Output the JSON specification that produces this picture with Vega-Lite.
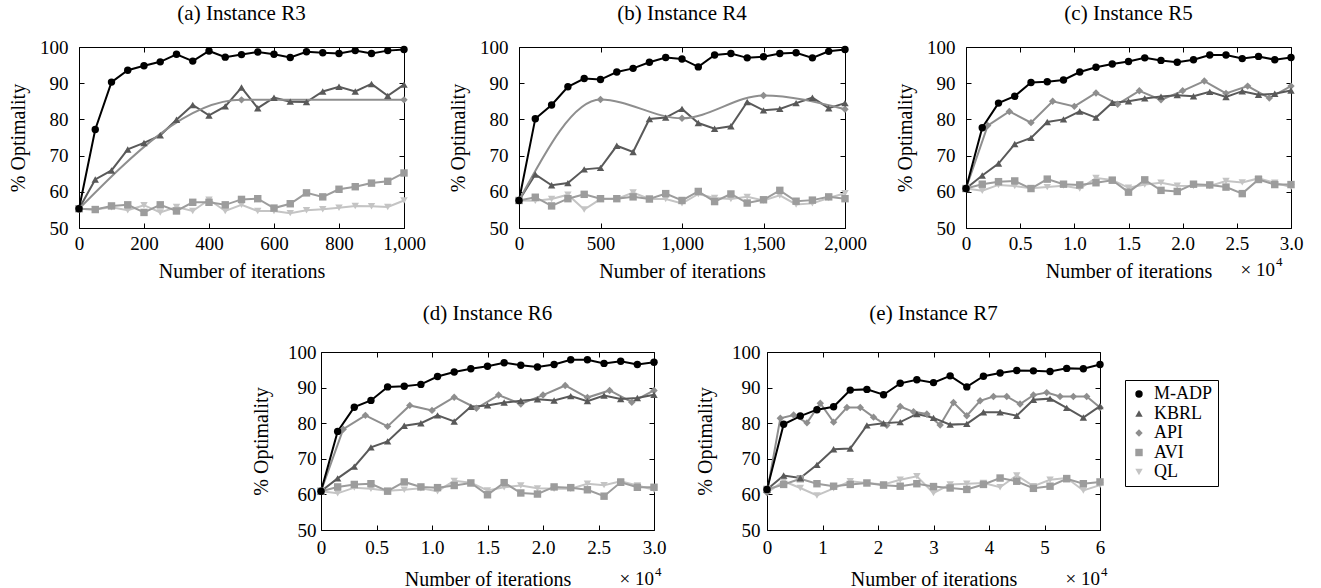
{
  "$schema": "https://vega.github.io/schema/vega-lite/v6.json",
  "padding": {"left": 8, "top": 2, "right": 0, "bottom": 0},
  "background": "white",
  "config": {
    "font": "Liberation Serif",
    "view": {"stroke": "black", "strokeWidth": 1},
    "axis": {"grid": false, "domain": false, "ticks": true, "tickColor": "black", "tickSize": -5, "tickWidth": 1, "labelFont": "Liberation Serif", "labelFontSize": 19, "labelColor": "black", "titleFont": "Liberation Serif", "titleFontSize": 20, "titleFontWeight": "normal", "titleColor": "black", "labelFlush": false, "labelOverlap": false},
    "title": {"font": "Liberation Serif", "fontSize": 21, "fontWeight": "normal", "color": "black"},
    "legend": {"labelFont": "Liberation Serif", "labelFontSize": 18, "labelColor": "black", "symbolSize": 55, "strokeColor": "black", "fillColor": "white", "padding": 5, "rowPadding": 1.5, "labelOffset": 6, "symbolStrokeWidth": 0}
  },
  "data": {"values": [
    {"p":"a","s":"QL","x":0,"y":55.3},{"p":"a","s":"QL","x":50,"y":55.1},{"p":"a","s":"QL","x":100,"y":55.7},{"p":"a","s":"QL","x":150,"y":54.9},{"p":"a","s":"QL","x":200,"y":56.3},{"p":"a","s":"QL","x":250,"y":54.3},{"p":"a","s":"QL","x":300,"y":55.8},{"p":"a","s":"QL","x":350,"y":54.7},{"p":"a","s":"QL","x":400,"y":57.8},{"p":"a","s":"QL","x":450,"y":54.7},{"p":"a","s":"QL","x":500,"y":56.4},{"p":"a","s":"QL","x":550,"y":54.7},{"p":"a","s":"QL","x":600,"y":54.7},{"p":"a","s":"QL","x":650,"y":54.1},{"p":"a","s":"QL","x":700,"y":54.9},{"p":"a","s":"QL","x":750,"y":55.2},{"p":"a","s":"QL","x":800,"y":55.6},{"p":"a","s":"QL","x":850,"y":56.1},{"p":"a","s":"QL","x":900,"y":56.0},{"p":"a","s":"QL","x":950,"y":55.8},{"p":"a","s":"QL","x":1000,"y":57.6},
    {"p":"a","s":"AVI","x":0,"y":55.3},{"p":"a","s":"AVI","x":50,"y":55.1},{"p":"a","s":"AVI","x":100,"y":56.1},{"p":"a","s":"AVI","x":150,"y":56.4},{"p":"a","s":"AVI","x":200,"y":54.3},{"p":"a","s":"AVI","x":250,"y":56.4},{"p":"a","s":"AVI","x":300,"y":54.7},{"p":"a","s":"AVI","x":350,"y":57.1},{"p":"a","s":"AVI","x":400,"y":57.1},{"p":"a","s":"AVI","x":450,"y":56.4},{"p":"a","s":"AVI","x":500,"y":57.9},{"p":"a","s":"AVI","x":550,"y":58.1},{"p":"a","s":"AVI","x":600,"y":55.5},{"p":"a","s":"AVI","x":650,"y":56.7},{"p":"a","s":"AVI","x":700,"y":59.7},{"p":"a","s":"AVI","x":750,"y":58.6},{"p":"a","s":"AVI","x":800,"y":60.7},{"p":"a","s":"AVI","x":850,"y":61.4},{"p":"a","s":"AVI","x":900,"y":62.4},{"p":"a","s":"AVI","x":950,"y":62.9},{"p":"a","s":"AVI","x":1000,"y":65.2},
    {"p":"a","s":"API","x":0,"y":55.3},{"p":"a","s":"API","x":500,"y":85.4},{"p":"a","s":"API","x":1000,"y":85.4},
    {"p":"a","s":"KBRL","x":0,"y":55.3},{"p":"a","s":"KBRL","x":50,"y":63.4},{"p":"a","s":"KBRL","x":100,"y":65.9},{"p":"a","s":"KBRL","x":150,"y":71.7},{"p":"a","s":"KBRL","x":200,"y":73.5},{"p":"a","s":"KBRL","x":250,"y":75.6},{"p":"a","s":"KBRL","x":300,"y":79.9},{"p":"a","s":"KBRL","x":350,"y":84.0},{"p":"a","s":"KBRL","x":400,"y":81.1},{"p":"a","s":"KBRL","x":450,"y":83.6},{"p":"a","s":"KBRL","x":500,"y":88.8},{"p":"a","s":"KBRL","x":550,"y":83.1},{"p":"a","s":"KBRL","x":600,"y":86.0},{"p":"a","s":"KBRL","x":650,"y":84.9},{"p":"a","s":"KBRL","x":700,"y":84.8},{"p":"a","s":"KBRL","x":750,"y":87.7},{"p":"a","s":"KBRL","x":800,"y":89.0},{"p":"a","s":"KBRL","x":850,"y":87.7},{"p":"a","s":"KBRL","x":900,"y":89.8},{"p":"a","s":"KBRL","x":950,"y":86.5},{"p":"a","s":"KBRL","x":1000,"y":89.6},
    {"p":"a","s":"M-ADP","x":0,"y":55.3},{"p":"a","s":"M-ADP","x":50,"y":77.2},{"p":"a","s":"M-ADP","x":100,"y":90.3},{"p":"a","s":"M-ADP","x":150,"y":93.6},{"p":"a","s":"M-ADP","x":200,"y":94.8},{"p":"a","s":"M-ADP","x":250,"y":95.9},{"p":"a","s":"M-ADP","x":300,"y":98.0},{"p":"a","s":"M-ADP","x":350,"y":96.1},{"p":"a","s":"M-ADP","x":400,"y":98.9},{"p":"a","s":"M-ADP","x":450,"y":97.2},{"p":"a","s":"M-ADP","x":500,"y":97.9},{"p":"a","s":"M-ADP","x":550,"y":98.6},{"p":"a","s":"M-ADP","x":600,"y":98.0},{"p":"a","s":"M-ADP","x":650,"y":97.1},{"p":"a","s":"M-ADP","x":700,"y":98.7},{"p":"a","s":"M-ADP","x":750,"y":98.4},{"p":"a","s":"M-ADP","x":800,"y":98.2},{"p":"a","s":"M-ADP","x":850,"y":99.0},{"p":"a","s":"M-ADP","x":900,"y":98.2},{"p":"a","s":"M-ADP","x":950,"y":99.0},{"p":"a","s":"M-ADP","x":1000,"y":99.3},

    {"p":"b","s":"QL","x":0,"y":57.6},{"p":"b","s":"QL","x":100,"y":57.5},{"p":"b","s":"QL","x":200,"y":58.0},{"p":"b","s":"QL","x":300,"y":59.2},{"p":"b","s":"QL","x":400,"y":55.1},{"p":"b","s":"QL","x":500,"y":58.0},{"p":"b","s":"QL","x":600,"y":58.0},{"p":"b","s":"QL","x":700,"y":59.8},{"p":"b","s":"QL","x":800,"y":58.0},{"p":"b","s":"QL","x":900,"y":58.0},{"p":"b","s":"QL","x":1000,"y":56.8},{"p":"b","s":"QL","x":1100,"y":59.4},{"p":"b","s":"QL","x":1200,"y":58.3},{"p":"b","s":"QL","x":1300,"y":58.0},{"p":"b","s":"QL","x":1400,"y":58.6},{"p":"b","s":"QL","x":1500,"y":57.6},{"p":"b","s":"QL","x":1600,"y":59.0},{"p":"b","s":"QL","x":1700,"y":56.5},{"p":"b","s":"QL","x":1800,"y":56.8},{"p":"b","s":"QL","x":1900,"y":58.3},{"p":"b","s":"QL","x":2000,"y":59.6},
    {"p":"b","s":"AVI","x":0,"y":57.6},{"p":"b","s":"AVI","x":100,"y":58.5},{"p":"b","s":"AVI","x":200,"y":56.1},{"p":"b","s":"AVI","x":300,"y":58.1},{"p":"b","s":"AVI","x":400,"y":59.3},{"p":"b","s":"AVI","x":500,"y":58.1},{"p":"b","s":"AVI","x":600,"y":58.1},{"p":"b","s":"AVI","x":700,"y":58.6},{"p":"b","s":"AVI","x":800,"y":58.0},{"p":"b","s":"AVI","x":900,"y":59.5},{"p":"b","s":"AVI","x":1000,"y":57.6},{"p":"b","s":"AVI","x":1100,"y":60.1},{"p":"b","s":"AVI","x":1200,"y":57.3},{"p":"b","s":"AVI","x":1300,"y":59.4},{"p":"b","s":"AVI","x":1400,"y":56.9},{"p":"b","s":"AVI","x":1500,"y":57.8},{"p":"b","s":"AVI","x":1600,"y":60.4},{"p":"b","s":"AVI","x":1700,"y":57.4},{"p":"b","s":"AVI","x":1800,"y":57.7},{"p":"b","s":"AVI","x":1900,"y":58.6},{"p":"b","s":"AVI","x":2000,"y":58.1},
    {"p":"b","s":"API","x":0,"y":57.6},{"p":"b","s":"API","x":500,"y":85.5},{"p":"b","s":"API","x":1000,"y":80.3},{"p":"b","s":"API","x":1500,"y":86.6},{"p":"b","s":"API","x":2000,"y":82.8},
    {"p":"b","s":"KBRL","x":0,"y":57.6},{"p":"b","s":"KBRL","x":100,"y":64.8},{"p":"b","s":"KBRL","x":200,"y":61.8},{"p":"b","s":"KBRL","x":300,"y":62.4},{"p":"b","s":"KBRL","x":400,"y":66.2},{"p":"b","s":"KBRL","x":500,"y":66.6},{"p":"b","s":"KBRL","x":600,"y":72.7},{"p":"b","s":"KBRL","x":700,"y":71.0},{"p":"b","s":"KBRL","x":800,"y":80.1},{"p":"b","s":"KBRL","x":900,"y":80.5},{"p":"b","s":"KBRL","x":1000,"y":82.9},{"p":"b","s":"KBRL","x":1100,"y":79.0},{"p":"b","s":"KBRL","x":1200,"y":77.4},{"p":"b","s":"KBRL","x":1300,"y":78.1},{"p":"b","s":"KBRL","x":1400,"y":84.8},{"p":"b","s":"KBRL","x":1500,"y":82.5},{"p":"b","s":"KBRL","x":1600,"y":82.9},{"p":"b","s":"KBRL","x":1700,"y":84.5},{"p":"b","s":"KBRL","x":1800,"y":86.0},{"p":"b","s":"KBRL","x":1900,"y":83.1},{"p":"b","s":"KBRL","x":2000,"y":84.5},
    {"p":"b","s":"M-ADP","x":0,"y":57.6},{"p":"b","s":"M-ADP","x":100,"y":80.2},{"p":"b","s":"M-ADP","x":200,"y":84.0},{"p":"b","s":"M-ADP","x":300,"y":89.0},{"p":"b","s":"M-ADP","x":400,"y":91.3},{"p":"b","s":"M-ADP","x":500,"y":91.0},{"p":"b","s":"M-ADP","x":600,"y":93.1},{"p":"b","s":"M-ADP","x":700,"y":94.1},{"p":"b","s":"M-ADP","x":800,"y":95.8},{"p":"b","s":"M-ADP","x":900,"y":97.1},{"p":"b","s":"M-ADP","x":1000,"y":96.7},{"p":"b","s":"M-ADP","x":1100,"y":94.5},{"p":"b","s":"M-ADP","x":1200,"y":97.8},{"p":"b","s":"M-ADP","x":1300,"y":98.2},{"p":"b","s":"M-ADP","x":1400,"y":97.0},{"p":"b","s":"M-ADP","x":1500,"y":97.3},{"p":"b","s":"M-ADP","x":1600,"y":98.2},{"p":"b","s":"M-ADP","x":1700,"y":98.4},{"p":"b","s":"M-ADP","x":1800,"y":97.0},{"p":"b","s":"M-ADP","x":1900,"y":98.8},{"p":"b","s":"M-ADP","x":2000,"y":99.3},

    {"p":"c","s":"QL","x":0,"y":60.9},{"p":"c","s":"QL","x":0.15,"y":60.3},{"p":"c","s":"QL","x":0.3,"y":61.9},{"p":"c","s":"QL","x":0.45,"y":61.6},{"p":"c","s":"QL","x":0.6,"y":61.0},{"p":"c","s":"QL","x":0.75,"y":61.3},{"p":"c","s":"QL","x":0.9,"y":61.7},{"p":"c","s":"QL","x":1.05,"y":60.9},{"p":"c","s":"QL","x":1.2,"y":63.8},{"p":"c","s":"QL","x":1.35,"y":63.3},{"p":"c","s":"QL","x":1.5,"y":61.1},{"p":"c","s":"QL","x":1.65,"y":62.0},{"p":"c","s":"QL","x":1.8,"y":62.5},{"p":"c","s":"QL","x":1.95,"y":61.7},{"p":"c","s":"QL","x":2.1,"y":61.6},{"p":"c","s":"QL","x":2.25,"y":61.6},{"p":"c","s":"QL","x":2.4,"y":63.0},{"p":"c","s":"QL","x":2.55,"y":62.6},{"p":"c","s":"QL","x":2.7,"y":63.7},{"p":"c","s":"QL","x":2.85,"y":62.5},{"p":"c","s":"QL","x":3,"y":61.3},
    {"p":"c","s":"AVI","x":0,"y":60.9},{"p":"c","s":"AVI","x":0.15,"y":62.1},{"p":"c","s":"AVI","x":0.3,"y":62.8},{"p":"c","s":"AVI","x":0.45,"y":63.0},{"p":"c","s":"AVI","x":0.6,"y":60.9},{"p":"c","s":"AVI","x":0.75,"y":63.5},{"p":"c","s":"AVI","x":0.9,"y":62.1},{"p":"c","s":"AVI","x":1.05,"y":61.9},{"p":"c","s":"AVI","x":1.2,"y":62.5},{"p":"c","s":"AVI","x":1.35,"y":63.2},{"p":"c","s":"AVI","x":1.5,"y":59.9},{"p":"c","s":"AVI","x":1.65,"y":63.3},{"p":"c","s":"AVI","x":1.8,"y":60.4},{"p":"c","s":"AVI","x":1.95,"y":60.1},{"p":"c","s":"AVI","x":2.1,"y":62.1},{"p":"c","s":"AVI","x":2.25,"y":61.9},{"p":"c","s":"AVI","x":2.4,"y":61.3},{"p":"c","s":"AVI","x":2.55,"y":59.5},{"p":"c","s":"AVI","x":2.7,"y":63.4},{"p":"c","s":"AVI","x":2.85,"y":62.0},{"p":"c","s":"AVI","x":3,"y":62.0},
    {"p":"c","s":"API","x":0,"y":60.9},{"p":"c","s":"API","x":0.2,"y":78.3},{"p":"c","s":"API","x":0.4,"y":82.2},{"p":"c","s":"API","x":0.6,"y":79.1},{"p":"c","s":"API","x":0.8,"y":85.0},{"p":"c","s":"API","x":1.0,"y":83.6},{"p":"c","s":"API","x":1.2,"y":87.3},{"p":"c","s":"API","x":1.4,"y":84.2},{"p":"c","s":"API","x":1.6,"y":87.9},{"p":"c","s":"API","x":1.8,"y":85.4},{"p":"c","s":"API","x":2.0,"y":87.9},{"p":"c","s":"API","x":2.2,"y":90.6},{"p":"c","s":"API","x":2.4,"y":87.2},{"p":"c","s":"API","x":2.6,"y":89.2},{"p":"c","s":"API","x":2.8,"y":85.9},{"p":"c","s":"API","x":3.0,"y":89.2},
    {"p":"c","s":"KBRL","x":0,"y":60.9},{"p":"c","s":"KBRL","x":0.15,"y":64.5},{"p":"c","s":"KBRL","x":0.3,"y":67.8},{"p":"c","s":"KBRL","x":0.45,"y":73.2},{"p":"c","s":"KBRL","x":0.6,"y":74.9},{"p":"c","s":"KBRL","x":0.75,"y":79.3},{"p":"c","s":"KBRL","x":0.9,"y":80.0},{"p":"c","s":"KBRL","x":1.05,"y":82.2},{"p":"c","s":"KBRL","x":1.2,"y":80.5},{"p":"c","s":"KBRL","x":1.35,"y":84.6},{"p":"c","s":"KBRL","x":1.5,"y":85.0},{"p":"c","s":"KBRL","x":1.65,"y":85.8},{"p":"c","s":"KBRL","x":1.8,"y":86.3},{"p":"c","s":"KBRL","x":1.95,"y":86.7},{"p":"c","s":"KBRL","x":2.1,"y":86.4},{"p":"c","s":"KBRL","x":2.25,"y":87.6},{"p":"c","s":"KBRL","x":2.4,"y":86.2},{"p":"c","s":"KBRL","x":2.55,"y":87.8},{"p":"c","s":"KBRL","x":2.7,"y":86.8},{"p":"c","s":"KBRL","x":2.85,"y":87.1},{"p":"c","s":"KBRL","x":3,"y":88.0},
    {"p":"c","s":"M-ADP","x":0,"y":60.9},{"p":"c","s":"M-ADP","x":0.15,"y":77.7},{"p":"c","s":"M-ADP","x":0.3,"y":84.5},{"p":"c","s":"M-ADP","x":0.45,"y":86.4},{"p":"c","s":"M-ADP","x":0.6,"y":90.2},{"p":"c","s":"M-ADP","x":0.75,"y":90.4},{"p":"c","s":"M-ADP","x":0.9,"y":90.9},{"p":"c","s":"M-ADP","x":1.05,"y":93.1},{"p":"c","s":"M-ADP","x":1.2,"y":94.4},{"p":"c","s":"M-ADP","x":1.35,"y":95.3},{"p":"c","s":"M-ADP","x":1.5,"y":96.0},{"p":"c","s":"M-ADP","x":1.65,"y":97.0},{"p":"c","s":"M-ADP","x":1.8,"y":96.3},{"p":"c","s":"M-ADP","x":1.95,"y":95.8},{"p":"c","s":"M-ADP","x":2.1,"y":96.5},{"p":"c","s":"M-ADP","x":2.25,"y":97.8},{"p":"c","s":"M-ADP","x":2.4,"y":97.8},{"p":"c","s":"M-ADP","x":2.55,"y":96.8},{"p":"c","s":"M-ADP","x":2.7,"y":97.4},{"p":"c","s":"M-ADP","x":2.85,"y":96.5},{"p":"c","s":"M-ADP","x":3,"y":97.1},

    {"p":"e","s":"QL","x":0,"y":60.5},{"p":"e","s":"QL","x":0.3,"y":63.7},{"p":"e","s":"QL","x":0.6,"y":61.8},{"p":"e","s":"QL","x":0.9,"y":59.7},{"p":"e","s":"QL","x":1.2,"y":61.7},{"p":"e","s":"QL","x":1.5,"y":63.7},{"p":"e","s":"QL","x":1.8,"y":63.2},{"p":"e","s":"QL","x":2.1,"y":62.8},{"p":"e","s":"QL","x":2.4,"y":64.1},{"p":"e","s":"QL","x":2.7,"y":65.1},{"p":"e","s":"QL","x":3,"y":60.4},{"p":"e","s":"QL","x":3.3,"y":62.8},{"p":"e","s":"QL","x":3.6,"y":63.0},{"p":"e","s":"QL","x":3.9,"y":63.2},{"p":"e","s":"QL","x":4.2,"y":62.0},{"p":"e","s":"QL","x":4.5,"y":65.3},{"p":"e","s":"QL","x":4.8,"y":62.3},{"p":"e","s":"QL","x":5.1,"y":64.1},{"p":"e","s":"QL","x":5.4,"y":64.6},{"p":"e","s":"QL","x":5.7,"y":61.1},{"p":"e","s":"QL","x":6,"y":62.6},
    {"p":"e","s":"AVI","x":0,"y":61.4},{"p":"e","s":"AVI","x":0.3,"y":62.8},{"p":"e","s":"AVI","x":0.6,"y":64.4},{"p":"e","s":"AVI","x":0.9,"y":63.0},{"p":"e","s":"AVI","x":1.2,"y":62.3},{"p":"e","s":"AVI","x":1.5,"y":62.8},{"p":"e","s":"AVI","x":1.8,"y":63.2},{"p":"e","s":"AVI","x":2.1,"y":62.6},{"p":"e","s":"AVI","x":2.4,"y":62.3},{"p":"e","s":"AVI","x":2.7,"y":63.0},{"p":"e","s":"AVI","x":3,"y":62.2},{"p":"e","s":"AVI","x":3.3,"y":61.8},{"p":"e","s":"AVI","x":3.6,"y":61.4},{"p":"e","s":"AVI","x":3.9,"y":62.8},{"p":"e","s":"AVI","x":4.2,"y":64.6},{"p":"e","s":"AVI","x":4.5,"y":63.7},{"p":"e","s":"AVI","x":4.8,"y":61.7},{"p":"e","s":"AVI","x":5.1,"y":62.3},{"p":"e","s":"AVI","x":5.4,"y":64.4},{"p":"e","s":"AVI","x":5.7,"y":63.0},{"p":"e","s":"AVI","x":6,"y":63.5},
    {"p":"e","s":"API","x":0,"y":60.5},{"p":"e","s":"API","x":0.24,"y":81.4},{"p":"e","s":"API","x":0.48,"y":82.3},{"p":"e","s":"API","x":0.72,"y":80.1},{"p":"e","s":"API","x":0.96,"y":85.6},{"p":"e","s":"API","x":1.2,"y":80.3},{"p":"e","s":"API","x":1.44,"y":84.4},{"p":"e","s":"API","x":1.68,"y":84.4},{"p":"e","s":"API","x":1.92,"y":81.7},{"p":"e","s":"API","x":2.16,"y":79.4},{"p":"e","s":"API","x":2.4,"y":84.7},{"p":"e","s":"API","x":2.64,"y":83.2},{"p":"e","s":"API","x":2.88,"y":82.6},{"p":"e","s":"API","x":3.12,"y":79.5},{"p":"e","s":"API","x":3.36,"y":85.8},{"p":"e","s":"API","x":3.6,"y":82.1},{"p":"e","s":"API","x":3.84,"y":86.3},{"p":"e","s":"API","x":4.08,"y":87.5},{"p":"e","s":"API","x":4.32,"y":87.5},{"p":"e","s":"API","x":4.56,"y":85.4},{"p":"e","s":"API","x":4.8,"y":87.9},{"p":"e","s":"API","x":5.04,"y":88.6},{"p":"e","s":"API","x":5.28,"y":87.5},{"p":"e","s":"API","x":5.52,"y":87.5},{"p":"e","s":"API","x":5.76,"y":87.5},{"p":"e","s":"API","x":6,"y":84.4},
    {"p":"e","s":"KBRL","x":0,"y":61.4},{"p":"e","s":"KBRL","x":0.3,"y":65.3},{"p":"e","s":"KBRL","x":0.6,"y":64.6},{"p":"e","s":"KBRL","x":0.9,"y":68.3},{"p":"e","s":"KBRL","x":1.2,"y":72.7},{"p":"e","s":"KBRL","x":1.5,"y":72.9},{"p":"e","s":"KBRL","x":1.8,"y":79.4},{"p":"e","s":"KBRL","x":2.1,"y":80.0},{"p":"e","s":"KBRL","x":2.4,"y":80.3},{"p":"e","s":"KBRL","x":2.7,"y":82.6},{"p":"e","s":"KBRL","x":3,"y":81.5},{"p":"e","s":"KBRL","x":3.3,"y":79.6},{"p":"e","s":"KBRL","x":3.6,"y":79.8},{"p":"e","s":"KBRL","x":3.9,"y":83.1},{"p":"e","s":"KBRL","x":4.2,"y":83.1},{"p":"e","s":"KBRL","x":4.5,"y":82.1},{"p":"e","s":"KBRL","x":4.8,"y":86.6},{"p":"e","s":"KBRL","x":5.1,"y":86.9},{"p":"e","s":"KBRL","x":5.4,"y":84.3},{"p":"e","s":"KBRL","x":5.7,"y":81.6},{"p":"e","s":"KBRL","x":6,"y":84.8},
    {"p":"e","s":"M-ADP","x":0,"y":61.4},{"p":"e","s":"M-ADP","x":0.3,"y":79.7},{"p":"e","s":"M-ADP","x":0.6,"y":82.0},{"p":"e","s":"M-ADP","x":0.9,"y":83.8},{"p":"e","s":"M-ADP","x":1.2,"y":84.6},{"p":"e","s":"M-ADP","x":1.5,"y":89.3},{"p":"e","s":"M-ADP","x":1.8,"y":89.5},{"p":"e","s":"M-ADP","x":2.1,"y":88.0},{"p":"e","s":"M-ADP","x":2.4,"y":91.2},{"p":"e","s":"M-ADP","x":2.7,"y":92.2},{"p":"e","s":"M-ADP","x":3,"y":91.4},{"p":"e","s":"M-ADP","x":3.3,"y":93.3},{"p":"e","s":"M-ADP","x":3.6,"y":90.2},{"p":"e","s":"M-ADP","x":3.9,"y":93.2},{"p":"e","s":"M-ADP","x":4.2,"y":94.1},{"p":"e","s":"M-ADP","x":4.5,"y":94.8},{"p":"e","s":"M-ADP","x":4.8,"y":94.7},{"p":"e","s":"M-ADP","x":5.1,"y":94.5},{"p":"e","s":"M-ADP","x":5.4,"y":95.4},{"p":"e","s":"M-ADP","x":5.7,"y":95.3},{"p":"e","s":"M-ADP","x":6,"y":96.5}
  ]},
  "spacing": 20,
  "vconcat": [
    {
      "spacing": 28,
      "hconcat": [
        {
          "spacing": 22,
          "hconcat": [
            {
              "title": {"text": "(a) Instance R3", "offset": 14},
              "width": 325, "height": 181,
              "layer": [
                {"transform": [{"filter": "datum.p == 'a' && datum.s != 'API'"}],
                 "mark": {"type": "line", "strokeWidth": 2},
                 "encoding": {
                   "x": {"field": "x", "type": "quantitative", "scale": {"domain": [0, 1000], "nice": false, "zero": false}, "axis": {"orient": "bottom", "values": [0, 200, 400, 600, 800, 1000], "format": ",d", "title": "Number of iterations", "labelPadding": 11, "titlePadding": 8}},
                   "y": {"field": "y", "type": "quantitative", "scale": {"domain": [50, 100], "nice": false, "zero": false}, "axis": {"orient": "left", "values": [50, 60, 70, 80, 90, 100], "title": "% Optimality", "labelPadding": 16, "titlePadding": 11}},
                   "stroke": {"field": "s", "type": "nominal", "scale": {"domain": ["QL", "AVI", "API", "KBRL", "M-ADP"], "range": ["#c4c4c4", "#9c9c9c", "#8e8e8e", "#595959", "#000000"]}, "legend": null}
                 }},
                {"transform": [{"filter": "datum.p == 'a' && datum.s == 'API'"}],
                 "mark": {"type": "line", "strokeWidth": 2, "interpolate": "monotone"},
                 "encoding": {
                   "x": {"field": "x", "type": "quantitative", "scale": {"domain": [0, 1000], "nice": false, "zero": false}, "axis": null},
                   "y": {"field": "y", "type": "quantitative", "scale": {"domain": [50, 100], "nice": false, "zero": false}, "axis": null},
                   "stroke": {"field": "s", "type": "nominal", "scale": {"domain": ["QL", "AVI", "API", "KBRL", "M-ADP"], "range": ["#c4c4c4", "#9c9c9c", "#8e8e8e", "#595959", "#000000"]}, "legend": null}
                 }},
                {"transform": [{"filter": "datum.p == 'a'"}],
                 "mark": {"type": "point", "filled": true, "size": 55, "opacity": 1},
                 "encoding": {
                   "x": {"field": "x", "type": "quantitative", "scale": {"domain": [0, 1000], "nice": false, "zero": false}, "axis": {"orient": "top", "values": [0, 200, 400, 600, 800, 1000], "labels": false, "title": null}},
                   "y": {"field": "y", "type": "quantitative", "scale": {"domain": [50, 100], "nice": false, "zero": false}, "axis": {"orient": "right", "values": [50, 60, 70, 80, 90, 100], "labels": false, "title": null}},
                   "color": {"field": "s", "type": "nominal", "scale": {"domain": ["M-ADP", "KBRL", "API", "AVI", "QL"], "range": ["#000000", "#595959", "#8e8e8e", "#9c9c9c", "#c4c4c4"]}, "legend": {"title": null, "orient": "none", "legendX": 1046, "legendY": 333, "labelFont": "Liberation Serif", "labelFontSize": 18}},
                   "shape": {"field": "s", "type": "nominal", "scale": {"domain": ["M-ADP", "KBRL", "API", "AVI", "QL"], "range": ["circle", "triangle-up", "diamond", "square", "triangle-down"]}, "legend": {"title": null, "orient": "none", "legendX": 1046, "legendY": 333, "labelFont": "Liberation Serif", "labelFontSize": 18}}
                 }}
              ]
            },
            {
              "title": {"text": "(b) Instance R4", "offset": 14},
              "width": 326, "height": 181,
              "layer": [
                {"transform": [{"filter": "datum.p == 'b' && datum.s != 'API'"}],
                 "mark": {"type": "line", "strokeWidth": 2},
                 "encoding": {
                   "x": {"field": "x", "type": "quantitative", "scale": {"domain": [0, 2000], "nice": false, "zero": false}, "axis": {"orient": "bottom", "values": [0, 500, 1000, 1500, 2000], "format": ",d", "title": "Number of iterations", "labelPadding": 11, "titlePadding": 8}},
                   "y": {"field": "y", "type": "quantitative", "scale": {"domain": [50, 100], "nice": false, "zero": false}, "axis": {"orient": "left", "values": [50, 60, 70, 80, 90, 100], "title": "% Optimality", "labelPadding": 16, "titlePadding": 11}},
                   "stroke": {"field": "s", "type": "nominal", "scale": {"domain": ["QL", "AVI", "API", "KBRL", "M-ADP"], "range": ["#c4c4c4", "#9c9c9c", "#8e8e8e", "#595959", "#000000"]}, "legend": null}
                 }},
                {"transform": [{"filter": "datum.p == 'b' && datum.s == 'API'"}],
                 "mark": {"type": "line", "strokeWidth": 2, "interpolate": "monotone"},
                 "encoding": {
                   "x": {"field": "x", "type": "quantitative", "scale": {"domain": [0, 2000], "nice": false, "zero": false}, "axis": null},
                   "y": {"field": "y", "type": "quantitative", "scale": {"domain": [50, 100], "nice": false, "zero": false}, "axis": null},
                   "stroke": {"field": "s", "type": "nominal", "scale": {"domain": ["QL", "AVI", "API", "KBRL", "M-ADP"], "range": ["#c4c4c4", "#9c9c9c", "#8e8e8e", "#595959", "#000000"]}, "legend": null}
                 }},
                {"transform": [{"filter": "datum.p == 'b'"}],
                 "mark": {"type": "point", "filled": true, "size": 55, "opacity": 1},
                 "encoding": {
                   "x": {"field": "x", "type": "quantitative", "scale": {"domain": [0, 2000], "nice": false, "zero": false}, "axis": {"orient": "top", "values": [0, 500, 1000, 1500, 2000], "labels": false, "title": null}},
                   "y": {"field": "y", "type": "quantitative", "scale": {"domain": [50, 100], "nice": false, "zero": false}, "axis": {"orient": "right", "values": [50, 60, 70, 80, 90, 100], "labels": false, "title": null}},
                   "color": {"field": "s", "type": "nominal", "scale": {"domain": ["M-ADP", "KBRL", "API", "AVI", "QL"], "range": ["#000000", "#595959", "#8e8e8e", "#9c9c9c", "#c4c4c4"]}, "legend": {"title": null, "orient": "none", "legendX": 1046, "legendY": 333, "labelFont": "Liberation Serif", "labelFontSize": 18}},
                   "shape": {"field": "s", "type": "nominal", "scale": {"domain": ["M-ADP", "KBRL", "API", "AVI", "QL"], "range": ["circle", "triangle-up", "diamond", "square", "triangle-down"]}, "legend": {"title": null, "orient": "none", "legendX": 1046, "legendY": 333, "labelFont": "Liberation Serif", "labelFontSize": 18}}
                 }}
              ]
            }
          ]
        },
        {
          "title": {"text": "(c) Instance R5", "offset": 14},
          "width": 325, "height": 181,
          "layer": [
            {"transform": [{"filter": "datum.p == 'c'"}],
             "mark": {"type": "line", "strokeWidth": 2},
             "encoding": {
               "x": {"field": "x", "type": "quantitative", "scale": {"domain": [0, 3], "nice": false, "zero": false}, "axis": {"orient": "bottom", "values": [0, 0.5, 1, 1.5, 2, 2.5, 3], "labelExpr": "datum.value == 0 ? '0' : format(datum.value, '.1f')", "title": "Number of iterations", "labelPadding": 11, "titlePadding": 8}},
               "y": {"field": "y", "type": "quantitative", "scale": {"domain": [50, 100], "nice": false, "zero": false}, "axis": {"orient": "left", "values": [50, 60, 70, 80, 90, 100], "title": "% Optimality", "labelPadding": 16, "titlePadding": 11}},
               "stroke": {"field": "s", "type": "nominal", "scale": {"domain": ["QL", "AVI", "API", "KBRL", "M-ADP"], "range": ["#c4c4c4", "#9c9c9c", "#8e8e8e", "#595959", "#000000"]}, "legend": null}
             }},
            {"transform": [{"filter": "datum.p == 'c'"}],
             "mark": {"type": "point", "filled": true, "size": 55, "opacity": 1},
             "encoding": {
               "x": {"field": "x", "type": "quantitative", "scale": {"domain": [0, 3], "nice": false, "zero": false}, "axis": {"orient": "top", "values": [0, 0.5, 1, 1.5, 2, 2.5, 3], "labels": false, "title": null}},
               "y": {"field": "y", "type": "quantitative", "scale": {"domain": [50, 100], "nice": false, "zero": false}, "axis": {"orient": "right", "values": [50, 60, 70, 80, 90, 100], "labels": false, "title": null}},
               "color": {"field": "s", "type": "nominal", "scale": {"domain": ["M-ADP", "KBRL", "API", "AVI", "QL"], "range": ["#000000", "#595959", "#8e8e8e", "#9c9c9c", "#c4c4c4"]}, "legend": {"title": null, "orient": "none", "legendX": 1046, "legendY": 333, "labelFont": "Liberation Serif", "labelFontSize": 18}},
               "shape": {"field": "s", "type": "nominal", "scale": {"domain": ["M-ADP", "KBRL", "API", "AVI", "QL"], "range": ["circle", "triangle-up", "diamond", "square", "triangle-down"]}, "legend": {"title": null, "orient": "none", "legendX": 1046, "legendY": 333, "labelFont": "Liberation Serif", "labelFontSize": 18}}
             }},
            {"data": {"values": [{}]},
             "mark": {"type": "text", "text": "× 10", "align": "right", "baseline": "middle", "dx": -16, "dy": 42, "fontSize": 19, "font": "Liberation Serif", "color": "black"},
             "encoding": {
               "x": {"datum": 3, "type": "quantitative", "scale": {"domain": [0, 3], "nice": false, "zero": false}, "axis": null},
               "y": {"datum": 50, "type": "quantitative", "scale": {"domain": [50, 100], "nice": false, "zero": false}, "axis": null}
             }},
            {"data": {"values": [{}]},
             "mark": {"type": "text", "text": "4", "align": "left", "baseline": "middle", "dx": -15, "dy": 34, "fontSize": 13, "font": "Liberation Serif", "color": "black"},
             "encoding": {
               "x": {"datum": 3, "type": "quantitative", "scale": {"domain": [0, 3], "nice": false, "zero": false}, "axis": null},
               "y": {"datum": 50, "type": "quantitative", "scale": {"domain": [50, 100], "nice": false, "zero": false}, "axis": null}
             }}
          ]
        }
      ]
    },
    {
      "spacing": 28,
      "hconcat": [
        {"width": 144, "height": 178, "data": {"values": []}, "mark": {"type": "point", "opacity": 0}, "view": {"stroke": null}},
        {
          "title": {"text": "(d) Instance R6", "offset": 19},
          "width": 333, "height": 178,
          "layer": [
            {"transform": [{"filter": "datum.p == 'c'"}],
             "mark": {"type": "line", "strokeWidth": 2},
             "encoding": {
               "x": {"field": "x", "type": "quantitative", "scale": {"domain": [0, 3], "nice": false, "zero": false}, "axis": {"orient": "bottom", "values": [0, 0.5, 1, 1.5, 2, 2.5, 3], "labelExpr": "datum.value == 0 ? '0' : format(datum.value, '.1f')", "title": "Number of iterations", "labelPadding": 13, "titlePadding": 12}},
               "y": {"field": "y", "type": "quantitative", "scale": {"domain": [50, 100], "nice": false, "zero": false}, "axis": {"orient": "left", "values": [50, 60, 70, 80, 90, 100], "title": "% Optimality", "labelPadding": 10, "titlePadding": 16}},
               "stroke": {"field": "s", "type": "nominal", "scale": {"domain": ["QL", "AVI", "API", "KBRL", "M-ADP"], "range": ["#c4c4c4", "#9c9c9c", "#8e8e8e", "#595959", "#000000"]}, "legend": null}
             }},
            {"transform": [{"filter": "datum.p == 'c'"}],
             "mark": {"type": "point", "filled": true, "size": 55, "opacity": 1},
             "encoding": {
               "x": {"field": "x", "type": "quantitative", "scale": {"domain": [0, 3], "nice": false, "zero": false}, "axis": {"orient": "top", "values": [0, 0.5, 1, 1.5, 2, 2.5, 3], "labels": false, "title": null}},
               "y": {"field": "y", "type": "quantitative", "scale": {"domain": [50, 100], "nice": false, "zero": false}, "axis": {"orient": "right", "values": [50, 60, 70, 80, 90, 100], "labels": false, "title": null}},
               "color": {"field": "s", "type": "nominal", "scale": {"domain": ["M-ADP", "KBRL", "API", "AVI", "QL"], "range": ["#000000", "#595959", "#8e8e8e", "#9c9c9c", "#c4c4c4"]}, "legend": {"title": null, "orient": "none", "legendX": 1046, "legendY": 333, "labelFont": "Liberation Serif", "labelFontSize": 18}},
               "shape": {"field": "s", "type": "nominal", "scale": {"domain": ["M-ADP", "KBRL", "API", "AVI", "QL"], "range": ["circle", "triangle-up", "diamond", "square", "triangle-down"]}, "legend": {"title": null, "orient": "none", "legendX": 1046, "legendY": 333, "labelFont": "Liberation Serif", "labelFontSize": 18}}
             }},
            {"data": {"values": [{}]},
             "mark": {"type": "text", "text": "× 10", "align": "right", "baseline": "middle", "dx": 0, "dy": 49, "fontSize": 19, "font": "Liberation Serif", "color": "black"},
             "encoding": {
               "x": {"datum": 3, "type": "quantitative", "scale": {"domain": [0, 3], "nice": false, "zero": false}, "axis": null},
               "y": {"datum": 50, "type": "quantitative", "scale": {"domain": [50, 100], "nice": false, "zero": false}, "axis": null}
             }},
            {"data": {"values": [{}]},
             "mark": {"type": "text", "text": "4", "align": "left", "baseline": "middle", "dx": 1, "dy": 42, "fontSize": 13, "font": "Liberation Serif", "color": "black"},
             "encoding": {
               "x": {"datum": 3, "type": "quantitative", "scale": {"domain": [0, 3], "nice": false, "zero": false}, "axis": null},
               "y": {"datum": 50, "type": "quantitative", "scale": {"domain": [50, 100], "nice": false, "zero": false}, "axis": null}
             }}
          ]
        },
        {
          "title": {"text": "(e) Instance R7", "offset": 19},
          "width": 333, "height": 178,
          "layer": [
            {"transform": [{"filter": "datum.p == 'e'"}],
             "mark": {"type": "line", "strokeWidth": 2},
             "encoding": {
               "x": {"field": "x", "type": "quantitative", "scale": {"domain": [0, 6], "nice": false, "zero": false}, "axis": {"orient": "bottom", "values": [0, 1, 2, 3, 4, 5, 6], "format": "d", "title": "Number of iterations", "labelPadding": 13, "titlePadding": 12}},
               "y": {"field": "y", "type": "quantitative", "scale": {"domain": [50, 100], "nice": false, "zero": false}, "axis": {"orient": "left", "values": [50, 60, 70, 80, 90, 100], "title": "% Optimality", "labelPadding": 12, "titlePadding": 16}},
               "stroke": {"field": "s", "type": "nominal", "scale": {"domain": ["QL", "AVI", "API", "KBRL", "M-ADP"], "range": ["#c4c4c4", "#9c9c9c", "#8e8e8e", "#595959", "#000000"]}, "legend": null}
             }},
            {"transform": [{"filter": "datum.p == 'e'"}],
             "mark": {"type": "point", "filled": true, "size": 55, "opacity": 1},
             "encoding": {
               "x": {"field": "x", "type": "quantitative", "scale": {"domain": [0, 6], "nice": false, "zero": false}, "axis": {"orient": "top", "values": [0, 1, 2, 3, 4, 5, 6], "labels": false, "title": null}},
               "y": {"field": "y", "type": "quantitative", "scale": {"domain": [50, 100], "nice": false, "zero": false}, "axis": {"orient": "right", "values": [50, 60, 70, 80, 90, 100], "labels": false, "title": null}},
               "color": {"field": "s", "type": "nominal", "scale": {"domain": ["M-ADP", "KBRL", "API", "AVI", "QL"], "range": ["#000000", "#595959", "#8e8e8e", "#9c9c9c", "#c4c4c4"]}, "legend": {"title": null, "orient": "none", "legendX": 1046, "legendY": 333, "labelFont": "Liberation Serif", "labelFontSize": 18}},
               "shape": {"field": "s", "type": "nominal", "scale": {"domain": ["M-ADP", "KBRL", "API", "AVI", "QL"], "range": ["circle", "triangle-up", "diamond", "square", "triangle-down"]}, "legend": {"title": null, "orient": "none", "legendX": 1046, "legendY": 333, "labelFont": "Liberation Serif", "labelFontSize": 18}}
             }},
            {"data": {"values": [{}]},
             "mark": {"type": "text", "text": "× 10", "align": "right", "baseline": "middle", "dx": 0, "dy": 49, "fontSize": 19, "font": "Liberation Serif", "color": "black"},
             "encoding": {
               "x": {"datum": 6, "type": "quantitative", "scale": {"domain": [0, 6], "nice": false, "zero": false}, "axis": null},
               "y": {"datum": 50, "type": "quantitative", "scale": {"domain": [50, 100], "nice": false, "zero": false}, "axis": null}
             }},
            {"data": {"values": [{}]},
             "mark": {"type": "text", "text": "4", "align": "left", "baseline": "middle", "dx": 1, "dy": 42, "fontSize": 13, "font": "Liberation Serif", "color": "black"},
             "encoding": {
               "x": {"datum": 6, "type": "quantitative", "scale": {"domain": [0, 6], "nice": false, "zero": false}, "axis": null},
               "y": {"datum": 50, "type": "quantitative", "scale": {"domain": [50, 100], "nice": false, "zero": false}, "axis": null}
             }}
          ]
        }
      ]
    }
  ]
}
